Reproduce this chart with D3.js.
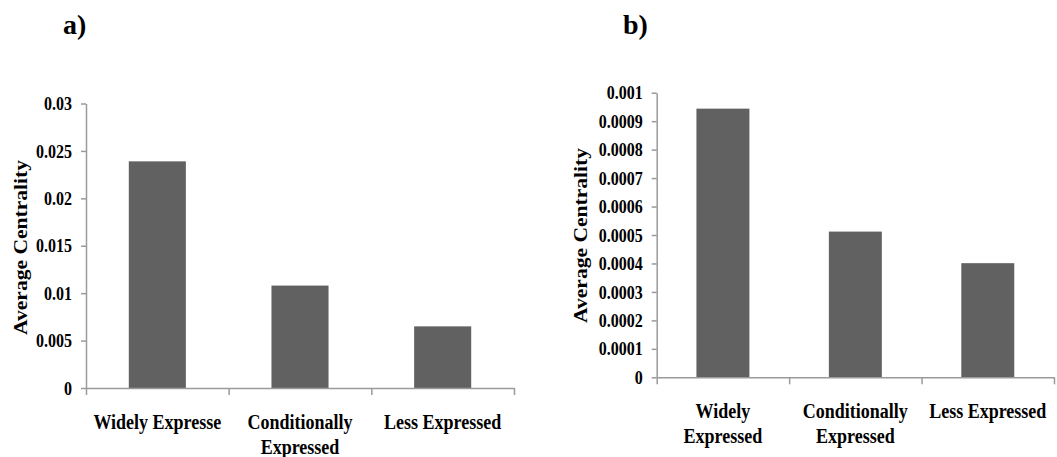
<!DOCTYPE html>
<html>
<head>
<meta charset="utf-8">
<script src="https://cdn.jsdelivr.net/npm/d3@7"></script>
<style>
    body { margin: 0; background: #fff; }
    svg { display: block; }
    text { font-family: "Liberation Serif", "Times New Roman", serif; font-weight: bold; fill: #000; }
    .axis path, .axis line { stroke: #9a9a9a; stroke-width: 1.5; }
</style>
</head>
<body>
<svg id="chart" width="1057" height="457"></svg>
<script>
// panel a
const categoriesA = ['Widely Expresse', 'Conditionally\nExpressed', 'Less Expressed'];
const valuesA = [0.0239, 0.0108, 0.0065];
const ticksA = [0, 0.005, 0.01, 0.015, 0.02, 0.025, 0.03];
const tickLabelsA = ['0', '0.005', '0.01', '0.015', '0.02', '0.025', '0.03'];

// panel b
const categoriesB = ['Widely\nExpressed', 'Conditionally\nExpressed', 'Less Expressed'];
const valuesB = [0.000944, 0.000512, 0.000401];
const ticksB = [0, 0.0001, 0.0002, 0.0003, 0.0004, 0.0005, 0.0006, 0.0007, 0.0008, 0.0009, 0.001];
const tickLabelsB = ['0', '0.0001', '0.0002', '0.0003', '0.0004', '0.0005', '0.0006', '0.0007', '0.0008', '0.0009', '0.001'];

const svg = d3.select('#chart');
// the original picture is a bit stretched vertically
const stretch = 1.2;

// 画一个面板
function drawPanel(p) {
    let g = svg.append('g').attr('class', 'panel');

    let y = d3.scaleLinear()
        .domain([0, p.ticks[p.ticks.length - 1]])
        .range([p.bottom, p.top]);

    let x = d3.scaleBand()
        .domain(p.categories)
        .range([p.left, p.right])
        .paddingInner(0.6)
        .paddingOuter(0.3);

    // category boundaries for the x ticks
    let xb = d3.scaleLinear()
        .domain([0, p.categories.length])
        .range([p.left, p.right]);

    g.selectAll('rect.bar')
        .data(p.values)
        .enter()
        .append('rect')
        .attr('class', 'bar')
        .attr('x', (d, i) => x(p.categories[i]))
        .attr('y', d => y(d))
        .attr('width', x.bandwidth())
        .attr('height', d => p.bottom - y(d))
        .attr('fill', '#616161');

    let yAxis = g.append('g')
        .attr('class', 'axis')
        .attr('transform', 'translate(' + p.left + ',0)')
        .call(d3.axisLeft(y)
            .tickValues(p.ticks)
            .tickFormat((d, i) => p.tickLabels[i])
            .tickSize(5)
            .tickSizeOuter(0)
            .tickPadding(9));
    yAxis.attr('font-family', null);
    yAxis.selectAll('text')
        .attr('font-size', 16)
        .attr('transform', 'scale(1,' + stretch + ')');

    g.append('g')
        .attr('class', 'axis')
        .attr('transform', 'translate(0,' + p.bottom + ')')
        .call(d3.axisBottom(xb)
            .tickValues(d3.range(p.categories.length + 1))
            .tickFormat('')
            .tickSize(7)
            .tickSizeOuter(0));

    // category labels, may have two lines
    let labels = g.selectAll('text.cat')
        .data(p.categories)
        .enter()
        .append('text')
        .attr('class', 'cat')
        .attr('text-anchor', 'middle')
        .attr('font-size', 18)
        .attr('transform', d => 'translate(' + (x(d) + x.bandwidth() / 2) + ',' + (p.bottom + 41) + ') scale(1,' + stretch + ')');
    labels.selectAll('tspan')
        .data(d => d.split('\n'))
        .enter()
        .append('tspan')
        .attr('x', 0)
        .attr('y', (d, i) => i * 25 / stretch)
        .text(d => d);

    g.append('text')
        .attr('text-anchor', 'middle')
        .attr('font-size', 18)
        .attr('textLength', 175)
        .attr('lengthAdjust', 'spacingAndGlyphs')
        .attr('transform', 'translate(' + p.titleX + ',' + p.titleY + ') rotate(-90)')
        .text('Average Centrality');

    g.append('text')
        .attr('x', p.labelX)
        .attr('y', 34)
        .attr('font-size', 28)
        .text(p.label);
}

drawPanel({
    categories: categoriesA, values: valuesA, ticks: ticksA, tickLabels: tickLabelsA,
    left: 86, right: 514, top: 103.5, bottom: 388,
    titleX: 27, titleY: 247.5, label: 'a)', labelX: 63
});

drawPanel({
    categories: categoriesB, values: valuesB, ticks: ticksB, tickLabels: tickLabelsB,
    left: 656.7, right: 1054, top: 92.7, bottom: 377.3,
    titleX: 587, titleY: 235.5, label: 'b)', labelX: 623
});
</script>
</body>
</html>
